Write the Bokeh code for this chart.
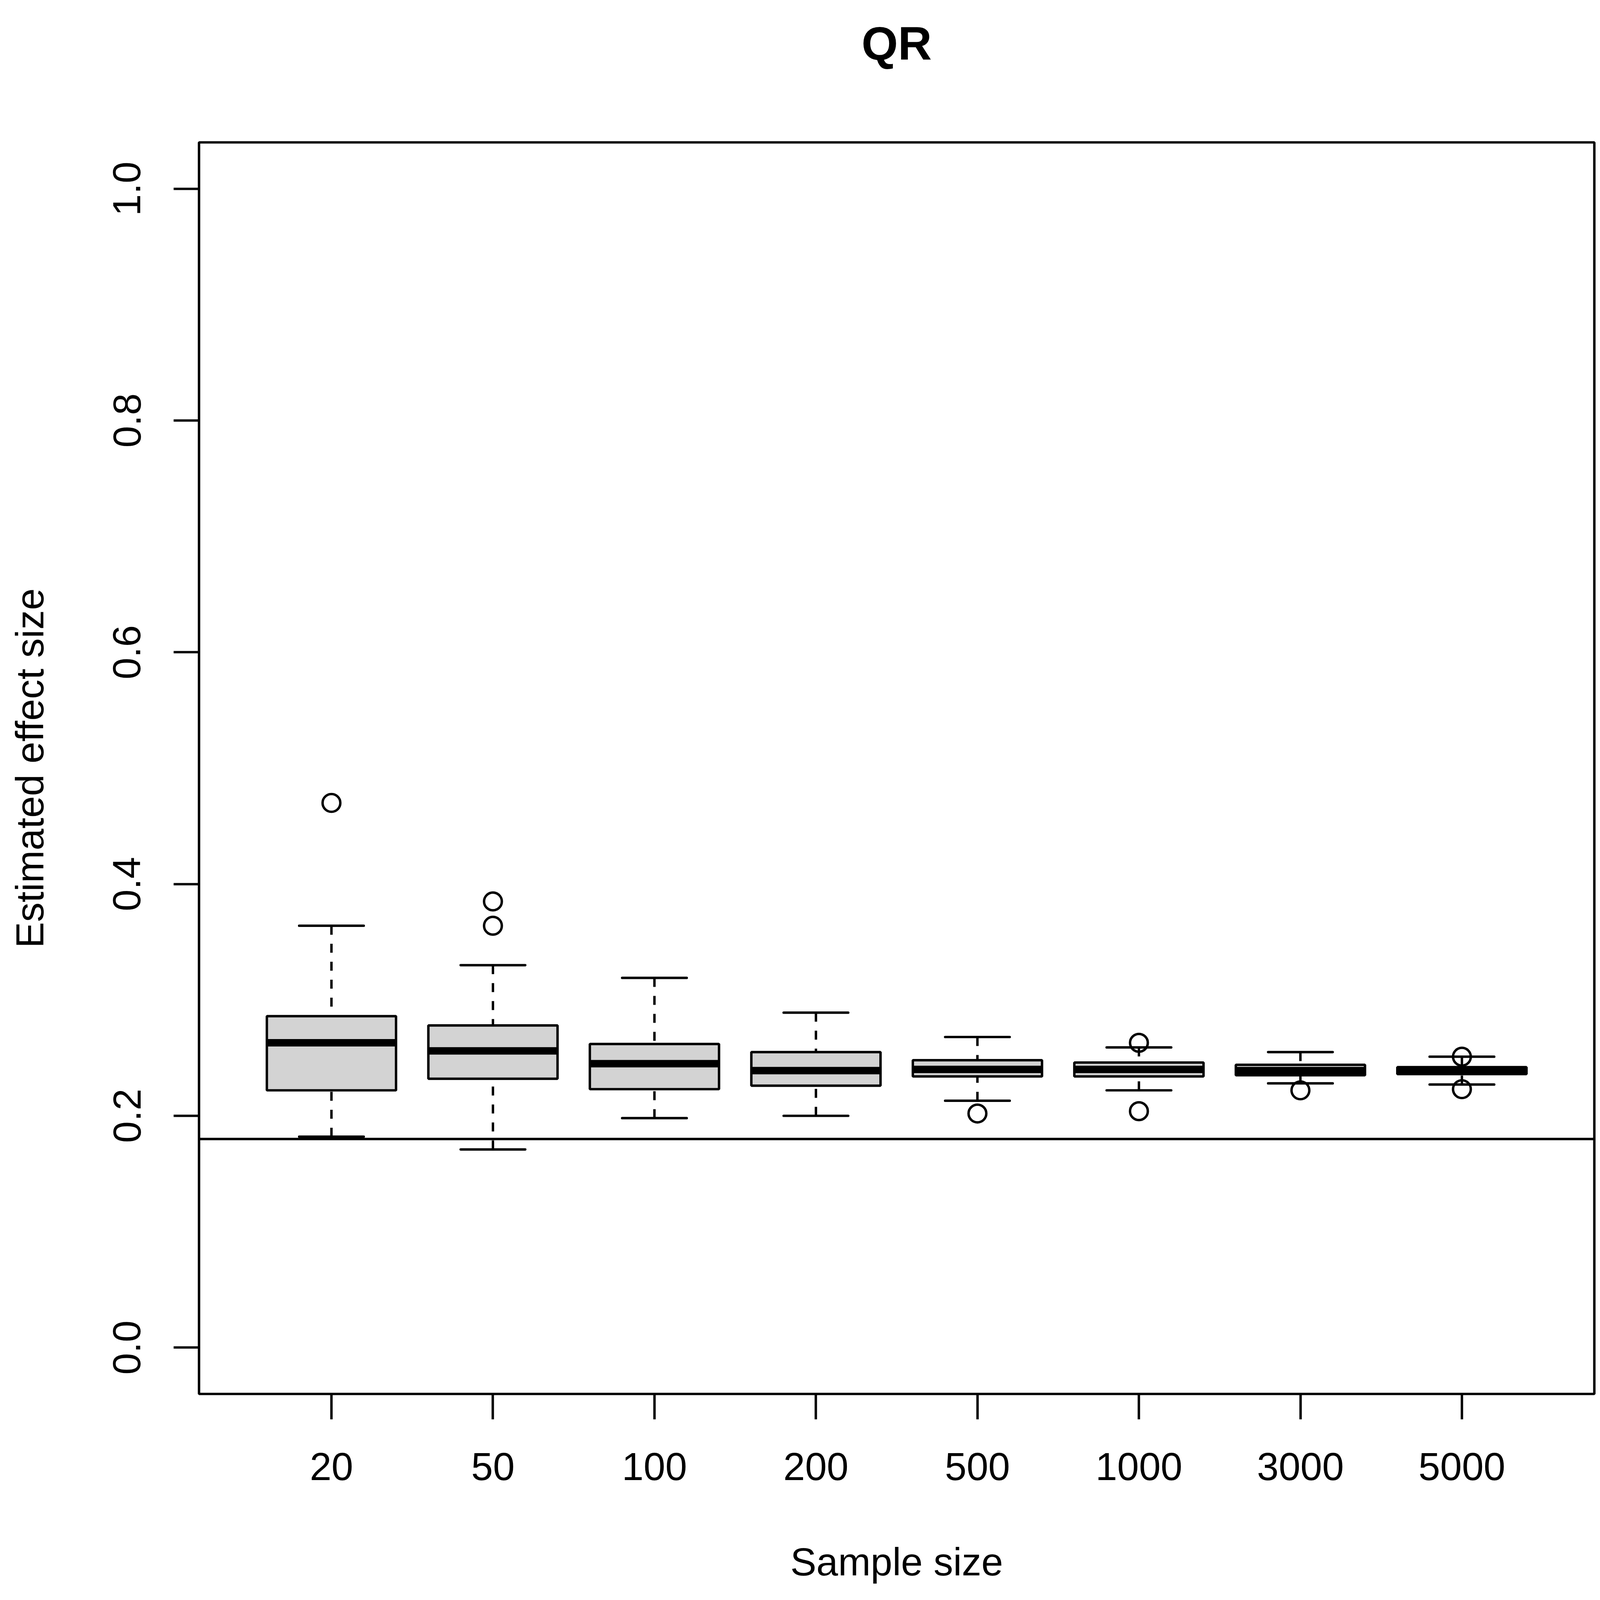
import numpy as np
from bokeh.plotting import figure
from bokeh.models import FixedTicker, NumeralTickFormatter, Span, LinearAxis
from bokeh.embed import file_html
from bokeh.resources import INLINE

# box statistics
sample_sizes = ["20", "50", "100", "200", "500", "1000", "3000", "5000"]
whisker_low = [0.182, 0.171, 0.198, 0.200, 0.213, 0.222, 0.228, 0.227]
q1 = [0.222, 0.232, 0.223, 0.226, 0.234, 0.234, 0.235, 0.236]
median = [0.263, 0.256, 0.245, 0.239, 0.240, 0.240, 0.239, 0.239]
q3 = [0.286, 0.278, 0.262, 0.255, 0.248, 0.246, 0.244, 0.242]
whisker_high = [0.364, 0.330, 0.319, 0.289, 0.268, 0.259, 0.255, 0.251]

# outliers: group index (1-based) and value
outlier_group = [1, 2, 2, 5, 6, 6, 7, 8, 8]
outlier_value = [0.470, 0.385, 0.364, 0.202, 0.263, 0.204, 0.222, 0.251, 0.223]

true_effect = 0.18
y_ticks = [0.0, 0.2, 0.4, 0.6, 0.8, 1.0]

pos = np.arange(1, len(sample_sizes) + 1)
FONT = "Liberation Sans"
LW = 6.2

p = figure(width=4087, height=4086,
           x_range=(0.18, len(sample_sizes) + 0.82), y_range=(-0.04, 1.04),
           x_axis_label="Sample size", y_axis_label="Estimated effect size",
           output_backend="svg", toolbar_location=None,
           min_border_left=509, min_border_right=6,
           min_border_top=364, min_border_bottom=518)
p.title_location = None

p.background_fill_color = "white"
p.border_fill_color = "white"
p.grid.visible = False
p.outline_line_color = "black"
p.outline_line_width = LW

# whiskers (dashed, from whisker end towards the box)
p.segment(x0=pos, y0=whisker_high, x1=pos, y1=q3, line_color="black",
          line_width=LW, line_dash="23 23")
p.segment(x0=pos, y0=whisker_low, x1=pos, y1=q1, line_color="black",
          line_width=LW, line_dash="23 23")
# staples
p.segment(x0=pos - 0.2, y0=whisker_high, x1=pos + 0.2, y1=whisker_high,
          line_color="black", line_width=LW, line_cap="round")
p.segment(x0=pos - 0.2, y0=whisker_low, x1=pos + 0.2, y1=whisker_low,
          line_color="black", line_width=LW, line_cap="round")
# boxes
p.quad(left=pos - 0.4, right=pos + 0.4, bottom=q1, top=q3,
       fill_color="#D3D3D3", line_color="black", line_width=LW)
# medians
p.segment(x0=pos - 0.4, y0=median, x1=pos + 0.4, y1=median,
          line_color="black", line_width=19, line_cap="butt")
# outliers
p.scatter(outlier_group, outlier_value, marker="circle", size=45.5,
          fill_color=None, line_color="black", line_width=LW)

p.add_layout(Span(location=true_effect, dimension="width",
                  line_color="black", line_width=LW))

# axes
p.xaxis.ticker = FixedTicker(ticks=[float(v) for v in pos])
p.xaxis.major_label_overrides = {float(v): s for v, s in zip(pos, sample_sizes)}
p.yaxis.ticker = FixedTicker(ticks=y_ticks)
p.yaxis.formatter = NumeralTickFormatter(format="0.0")
p.yaxis.major_label_orientation = "parallel"

for ax in (p.xaxis, p.yaxis):
    ax.axis_line_color = None
    ax.minor_tick_line_color = None
    ax.major_tick_in = 0
    ax.major_tick_out = 65
    ax.major_tick_line_width = LW
    ax.major_tick_line_color = "black"
    ax.major_label_text_font = FONT
    ax.major_label_text_font_size = "100px"
    ax.major_label_text_color = "black"
    ax.axis_label_text_font = FONT
    ax.axis_label_text_font_size = "100px"
    ax.axis_label_text_font_style = "normal"
    ax.axis_label_text_color = "black"
p.xaxis.major_label_standoff = 86
p.yaxis.major_label_standoff = 85
p.xaxis.axis_label_standoff = 150
p.yaxis.axis_label_standoff = 156

# main title: label of a bare axis above the frame (sits further out than a
# Title panel can within the top border)
title_axis = LinearAxis(ticker=FixedTicker(ticks=[]), axis_label="QR",
                        axis_line_color=None, major_tick_line_color=None,
                        minor_tick_line_color=None, major_tick_in=0,
                        major_tick_out=0, minor_tick_in=0, minor_tick_out=0,
                        major_label_standoff=0, axis_label_standoff=187,
                        axis_label_text_font=FONT,
                        axis_label_text_font_size="120px",
                        axis_label_text_font_style="bold",
                        axis_label_text_color="black")
p.add_layout(title_axis, "above")

open("out.html", "w").write(file_html(p, INLINE))
